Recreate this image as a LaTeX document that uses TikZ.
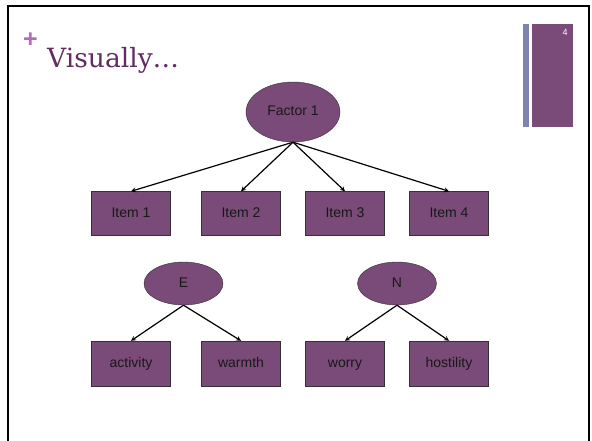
\documentclass[tikz,border=0pt]{standalone}
\usepackage{fontspec}
\setmainfont{Liberation Sans}
\newfontfamily\titlefont{DejaVu Serif}
\usepackage{tikz}
\usetikzlibrary{shapes,arrows,positioning}

\definecolor{plum}{RGB}{122,74,120}
\definecolor{slate}{RGB}{128,130,176}
\definecolor{orchid}{RGB}{183,106,186}
\definecolor{titleplum}{RGB}{96,45,98}

\begin{document}
\begin{tikzpicture}[
    x=1pt, y=-1pt,
    box/.style={rectangle, draw=black!80, fill=plum, minimum width=79pt, minimum height=44pt, inner sep=0pt, text height=10pt, text depth=3pt, text=black!90, font=\fontsize{14}{16}\selectfont},
    factor/.style={ellipse, draw=black!80, fill=plum, inner sep=0pt, text height=10pt, text depth=3pt, text=black!90, font=\fontsize{14}{16}\selectfont},
    arrow/.style={->, >=stealth, line width=1.2pt}
]
    \useasboundingbox (0,0) rectangle (592,441);

    % Slide frame and title
    \draw[line width=2pt] (8,441) -- (8,6) -- (589,6) -- (589,441);
    \node[text=orchid, font=\bfseries\fontsize{25}{25}\selectfont, inner sep=0pt] (plus) at (30.5,40.5) {+};
    \node[anchor=base west, inner sep=0pt, text=titleplum, font=\titlefont\fontsize{26.5}{30}\selectfont] (title) at (47,68) {Visually…};

    % Page mark
    \fill[slate] (523,24) rectangle (529,127);
    \fill[plum] (532,24) rectangle (573,127);
    \node[text=white, font=\fontsize{9}{9}\selectfont] (pagenum) at (565,32) {4};

    % Nodes
    \node[factor, minimum width=94pt, minimum height=60pt] (factor) at (293,112) {Factor 1};
    \foreach \x/\n in {131/1, 241/2, 345/3, 449/4}
        \node[box] (item\n) at (\x,213.5) {Item \n};

    \node[factor, minimum width=79pt, minimum height=43pt] (e) at (183.5,283.5) {E};
    \node[factor, minimum width=79pt, minimum height=43pt] (n) at (397,283.5) {N};
    \node[box, minimum height=45pt] (activity) at (131,363.5) {activity};
    \node[box, minimum height=45pt] (warmth) at (241,363.5) {warmth};
    \node[box, minimum height=45pt] (worry) at (345,363.5) {worry};
    \node[box, minimum height=45pt] (hostility) at (449,363.5) {hostility};

    % Arrows
    \foreach \n in {1,...,4}
        \draw[arrow] (factor.south) -- (item\n.north);
    \draw[arrow] (e.south) -- (activity.north);
    \draw[arrow] (e.south) -- (warmth.north);
    \draw[arrow] (n.south) -- (worry.north);
    \draw[arrow] (n.south) -- (hostility.north);
\end{tikzpicture}
\end{document}
